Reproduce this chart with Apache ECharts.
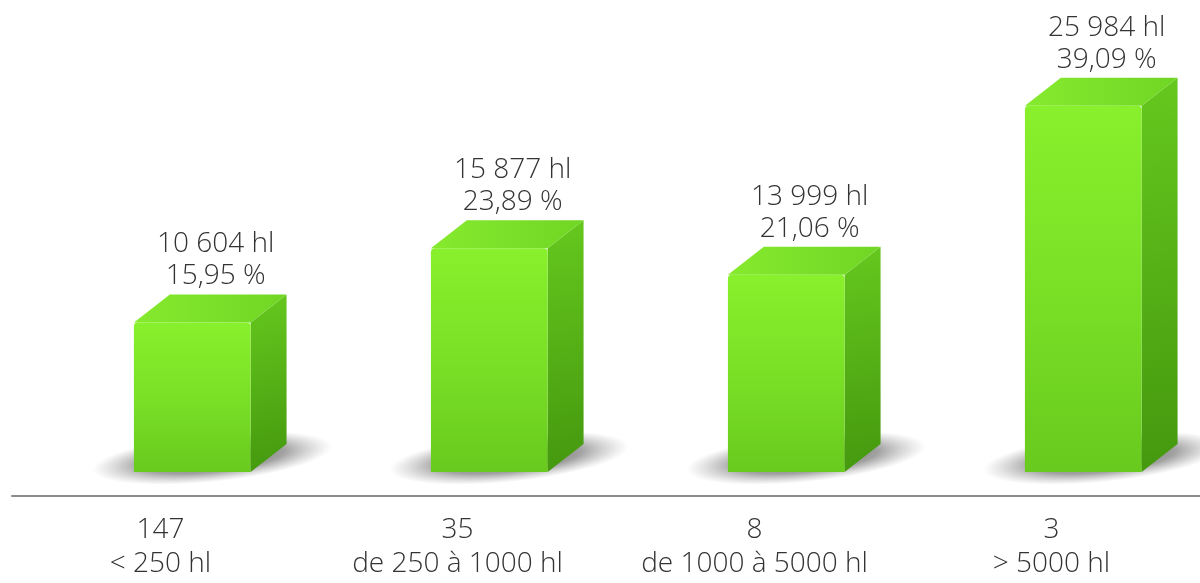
<!DOCTYPE html>
<html>
<head>
<meta charset="utf-8">
<script src="https://cdn.jsdelivr.net/npm/echarts@6/dist/echarts.min.js"></script>
<style>
  html, body { margin: 0; padding: 0; background: #fff; }
  #main { width: 1200px; height: 583px; }
</style>
</head>
<body>
<div id="main"></div>
<script>
var myChart = echarts.init(document.getElementById("main"));

// catégories de volume et nombre d'exploitations
var ranges = ['< 250 hl', 'de 250 à 1000 hl', 'de 1000 à 5000 hl', '> 5000 hl'];
var counts = ['147', '35', '8', '3'];
// volumes (hl) et parts
var volumes = [10604, 15877, 13999, 25984];
var volumeLabels = ['10 604 hl', '15 877 hl', '13 999 hl', '25 984 hl'];
var shares = ['15,95 %', '23,89 %', '21,06 %', '39,09 %'];

var FONT = '"Open Sans"';

function renderBox(params, api) {
    var i = api.value(0);
    var base = api.coord([i, 0]);
    var top = api.coord([i, api.value(1)]);
    var band = api.size([1, 0])[0];
    var w = band * 0.393;          // largeur face avant
    var cx = base[0] + band * 0.107; // décalage de la face avant
    var dx = band * 0.121, dy = 28;  // profondeur 3D
    var x0 = cx - w / 2, x1 = cx + w / 2;
    var yb = base[1], yt = top[1];
    var sr = 24;

    return {
        type: 'group',
        children: [
            {   // ombre portée (cercle étiré)
                type: 'circle',
                x: cx + 20,
                y: yb - 14,
                scaleX: (w / 2 + 62) / sr,
                rotation: 0.1,
                shape: { cx: 0, cy: 0, r: sr },
                style: {
                    fill: new echarts.graphic.RadialGradient(0.5, 0.5, 0.5, [
                        { offset: 0, color: 'rgba(40,40,40,0.8)' },
                        { offset: 0.6, color: 'rgba(70,70,70,0.5)' },
                        { offset: 1, color: 'rgba(120,120,120,0)' }
                    ])
                },
                silent: true
            },
            {   // face latérale
                type: 'polygon',
                shape: { points: [[x1, yt], [x1 + dx, yt - dy], [x1 + dx, yb - dy], [x1, yb]] },
                style: {
                    fill: new echarts.graphic.LinearGradient(0, 0, 1, 1, [
                        { offset: 0, color: '#66c81e' },
                        { offset: 1, color: '#44980e' }
                    ])
                }
            },
            {   // face supérieure
                type: 'polygon',
                shape: { points: [[x0, yt], [x0 + dx, yt - dy], [x1 + dx, yt - dy], [x1, yt]] },
                style: {
                    fill: new echarts.graphic.LinearGradient(0, 0, 1, 0, [
                        { offset: 0, color: '#86ea2e' },
                        { offset: 1, color: '#70d624' }
                    ])
                }
            },
            {   // face avant
                type: 'rect',
                shape: { x: x0, y: yt, width: w, height: yb - yt, r: [4, 4, 0, 0] },
                style: {
                    fill: new echarts.graphic.LinearGradient(0, 0, 0, 1, [
                        { offset: 0, color: '#88f02c' },
                        { offset: 0.5, color: '#7ae026' },
                        { offset: 1, color: '#68ca1e' }
                    ])
                }
            },
            {   // étiquette
                type: 'text',
                x: cx + dx * 0.65,
                y: yt - dy - 2,
                style: {
                    text: volumeLabels[i] + '\n' + shares[i],
                    fill: '#333',
                    font: '300 28px ' + FONT,
                    lineHeight: 32,
                    align: 'center',
                    verticalAlign: 'bottom'
                }
            }
        ]
    };
}

var option = {
    backgroundColor: '#fff',
    animation: false,
    grid: { left: 12, width: 1192, top: 73, bottom: 87 },
    xAxis: {
        type: 'category',
        data: ranges,
        axisLine: { onZero: false, lineStyle: { color: '#8c8c8c', width: 2 } },
        axisTick: { show: false },
        axisLabel: {
            margin: 17,
            color: '#333',
            fontFamily: FONT,
            fontWeight: 300,
            fontSize: 28,
            lineHeight: 34,
            formatter: function (v, idx) { return counts[idx] + '\n' + v; }
        }
    },
    yAxis: {
        type: 'value',
        min: -1700,
        max: 28300,
        show: false,
        splitLine: { show: false }
    },
    series: [{
        type: 'custom',
        renderItem: renderBox,
        data: volumes.map(function (v, k) { return [k, v]; }),
        clip: false
    }]
};

myChart.setOption(option);
</script>
</body>
</html>
